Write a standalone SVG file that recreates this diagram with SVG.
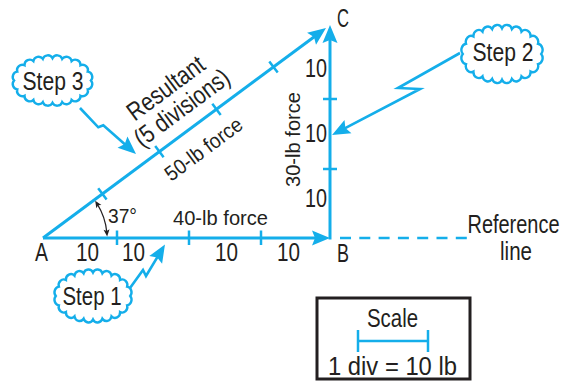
<svg xmlns="http://www.w3.org/2000/svg" width="564" height="383" viewBox="0 0 564 383">
<style>
.t{font-family:"Liberation Sans",Arial,Helvetica,sans-serif;font-size:25.5px;fill:#231f20}
.s{font-size:21px}
.m{text-anchor:middle}
.e{text-anchor:end}
.bl{stroke:#14aeea;stroke-width:3;fill:none}
.pt{stroke:#14aeea;stroke-width:2.6;fill:none;stroke-linejoin:miter}
.tk{stroke:#14aeea;stroke-width:2.5}
.cl{fill:#fff;stroke:#14aeea;stroke-width:2.4}
</style>
<defs>
<marker id="ah" markerUnits="userSpaceOnUse" orient="auto" overflow="visible" markerWidth="1" markerHeight="1"><path d="M10,0 L-8,-7.5 L-5,0 L-8,7.5 Z" fill="#14aeea"/></marker>
<marker id="sa" markerUnits="userSpaceOnUse" orient="auto-start-reverse" overflow="visible" markerWidth="1" markerHeight="1"><path d="M4,0 L-3,-3 L-1.5,0 L-3,3 Z" fill="#231f20"/></marker>
<path id="cloud" vector-effect="non-scaling-stroke" d="M40,0 A5.5,5.5 0 0 1 36.71,9.13 A5.5,5.5 0 0 1 29.16,15.74 A5.5,5.5 0 0 1 19.88,19.96 A5.5,5.5 0 0 1 10.08,22.26 A5.5,5.5 0 0 1 0,23 A5.5,5.5 0 0 1 -10.08,22.26 A5.5,5.5 0 0 1 -19.88,19.96 A5.5,5.5 0 0 1 -29.16,15.74 A5.5,5.5 0 0 1 -36.71,9.13 A5.5,5.5 0 0 1 -40,0 A5.5,5.5 0 0 1 -36.71,-9.13 A5.5,5.5 0 0 1 -29.16,-15.74 A5.5,5.5 0 0 1 -19.88,-19.96 A5.5,5.5 0 0 1 -10.08,-22.26 A5.5,5.5 0 0 1 0,-23 A5.5,5.5 0 0 1 10.08,-22.26 A5.5,5.5 0 0 1 19.88,-19.96 A5.5,5.5 0 0 1 29.16,-15.74 A5.5,5.5 0 0 1 36.71,-9.13 A5.5,5.5 0 0 1 40,0 Z"/>
</defs>

<g id="connectors">
  <line class="bl" x1="43" y1="238" x2="320" y2="238" marker-end="url(#ah)"/>
  <line class="bl" x1="330" y1="239.5" x2="330" y2="35" marker-end="url(#ah)"/>
  <line class="bl" x1="43" y1="238" x2="317.97" y2="33.96" marker-end="url(#ah)"/>
  <line x1="340" y1="238" x2="467" y2="238" stroke="#14aeea" stroke-width="2.5" stroke-dasharray="11 8.3"/>
  <g class="tk">
    <line x1="117" y1="230.5" x2="117" y2="245"/>
    <line x1="189" y1="230.5" x2="189" y2="245"/>
    <line x1="261" y1="230.5" x2="261" y2="245"/>
    <line x1="323" y1="99" x2="337" y2="99"/>
    <line x1="323" y1="169" x2="337" y2="169"/>
    <line x1="98.2" y1="188.3" x2="106.6" y2="199.5"/>
    <line x1="155.2" y1="146" x2="163.6" y2="157.2"/>
    <line x1="212.3" y1="103.7" x2="220.7" y2="114.9"/>
    <line x1="269.3" y1="61.4" x2="277.7" y2="72.6"/>
  </g>
  <path d="M106.8,232.4 A64,64 0 0 0 97.3,204.1" fill="none" stroke="#231f20" stroke-width="1.2" marker-start="url(#sa)" marker-end="url(#sa)"/>
  <path class="pt" d="M80,108 L98.3,127.3 L103.3,125.3 L128.5,147.4" marker-end="url(#ah)"/>
  <path class="pt" d="M460,53 L398,88 L420,89 L340.9,130.4" marker-end="url(#ah)"/>
  <path class="pt" d="M130,288 L143,270 L146,276 L159.8,253.1" marker-end="url(#ah)"/>
</g>

<g id="step3">
  <use href="#cloud" class="cl" transform="translate(52.5,80.5) scale(0.96,0.97)"/>
  <text class="t m" x="53" y="90" textLength="61" lengthAdjust="spacingAndGlyphs">Step 3</text>
</g>
<g id="step2">
  <use href="#cloud" class="cl" transform="translate(502,54) scale(0.98,1.12)"/>
  <text class="t m" x="503" y="61" textLength="61" lengthAdjust="spacingAndGlyphs">Step 2</text>
</g>
<g id="step1">
  <use href="#cloud" class="cl" transform="translate(93,296) scale(0.93,1.02)"/>
  <text class="t m" x="92" y="305" textLength="59" lengthAdjust="spacingAndGlyphs">Step 1</text>
</g>

<g id="labels">
  <text class="t m" x="41.5" y="261" textLength="13" lengthAdjust="spacingAndGlyphs">A</text>
  <text class="t m" x="343" y="262" textLength="12" lengthAdjust="spacingAndGlyphs">B</text>
  <text class="t m" x="343" y="27" textLength="12" lengthAdjust="spacingAndGlyphs">C</text>
  <text class="t m" x="87.5" y="261" textLength="23" lengthAdjust="spacingAndGlyphs">10</text>
  <text class="t m" x="133.5" y="261" textLength="23" lengthAdjust="spacingAndGlyphs">10</text>
  <text class="t m" x="226.5" y="261" textLength="23" lengthAdjust="spacingAndGlyphs">10</text>
  <text class="t m" x="288.5" y="261" textLength="23" lengthAdjust="spacingAndGlyphs">10</text>
  <text class="t e" x="327" y="77" textLength="22" lengthAdjust="spacingAndGlyphs">10</text>
  <text class="t e" x="327" y="142" textLength="22" lengthAdjust="spacingAndGlyphs">10</text>
  <text class="t e" x="327" y="207" textLength="22" lengthAdjust="spacingAndGlyphs">10</text>
  <text class="t s m" transform="translate(300,139.5) rotate(-90)" x="0" y="0" textLength="95" lengthAdjust="spacingAndGlyphs">30-lb force</text>
  <text class="t s m" x="220.5" y="225" textLength="95" lengthAdjust="spacingAndGlyphs">40-lb force</text>
  <text class="t s" x="108" y="223" textLength="29" lengthAdjust="spacingAndGlyphs">37°</text>
  <g transform="translate(43,238) rotate(-36.6)">
    <text class="t m" x="188" y="-38.6" textLength="90" lengthAdjust="spacingAndGlyphs">Resultant</text>
    <text class="t m" x="189" y="-13.2" textLength="112" lengthAdjust="spacingAndGlyphs">(5 divisions)</text>
    <text class="t s m" x="182" y="31.5" textLength="91" lengthAdjust="spacingAndGlyphs">50-lb force</text>
  </g>
  <text class="t m" x="513.5" y="233" textLength="92" lengthAdjust="spacingAndGlyphs">Reference</text>
  <text class="t m" x="516" y="260" textLength="32" lengthAdjust="spacingAndGlyphs">line</text>
</g>

<g id="scale">
  <rect x="317" y="298" width="153" height="81" fill="none" stroke="#231f20" stroke-width="3"/>
  <g class="tk">
    <line x1="358" y1="341" x2="428" y2="341"/>
    <line x1="358" y1="330" x2="358" y2="352"/>
    <line x1="428" y1="330" x2="428" y2="352"/>
  </g>
  <text class="t m" x="392.5" y="327" textLength="51" lengthAdjust="spacingAndGlyphs">Scale</text>
  <text class="t m" x="392.5" y="375" textLength="129" lengthAdjust="spacingAndGlyphs">1 div = 10 lb</text>
</g>
</svg>
